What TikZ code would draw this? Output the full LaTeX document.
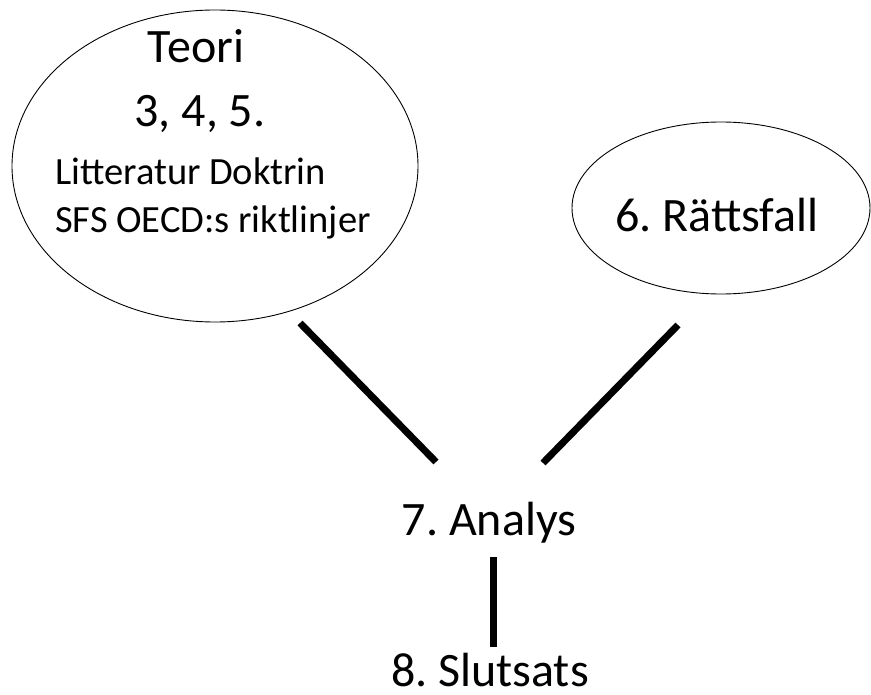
\documentclass[tikz,border=0pt]{standalone}
\usepackage{fontspec}
\setmainfont{Carlito}
\usetikzlibrary{shapes.geometric}
\frenchspacing
\tikzset{
  oval/.style={draw=black, line width=0.9pt, ellipse, inner sep=0pt},
  big/.style={font=\fontsize{48}{52}\selectfont, inner sep=0pt},
  small/.style={font=\fontsize{38.5}{42}\selectfont, inner sep=0pt},
  link/.style={line width=7pt, line cap=butt}
}
\begin{document}
\begin{tikzpicture}[x=1pt,y=-1pt]
\useasboundingbox[fill=white] (0,0) rectangle (871,695);
% ellipses
\node[oval, minimum width=406pt, minimum height=312pt] (theory) at (215,166) {};
\node[oval, minimum width=298pt, minimum height=172pt] (cases) at (721,208) {};
% texts
\node[big, anchor=base] (teori) at (196,63) {Teori};
\node[big, anchor=base] (chap) at (200,127) {3, 4, 5.};
\node[small, anchor=base west] (lit) at (55,185) {Litteratur Doktrin};
\node[small, anchor=base west] (sfs) at (55,233) {SFS OECD:s riktlinjer};
\node[big, anchor=base] (rf) at (717,232) {6. Rättsfall};
\node[big, anchor=base] (analys) at (489,535) {7. Analys};
\node[big, anchor=base, text depth=0pt] (slut) at (490,686) {8. Slutsats};
% connector ends
\coordinate (l1) at (300,323);
\coordinate (l2) at (436,462);
\coordinate (r1) at (678,325);
\coordinate (r2) at (543,463);
\coordinate (v1) at (493,557);
\coordinate (v2) at (493,647);
\draw[link] (l1) -- (l2);
\draw[link] (r1) -- (r2);
\draw[link] (v1) -- (v2);
\end{tikzpicture}
\end{document}
